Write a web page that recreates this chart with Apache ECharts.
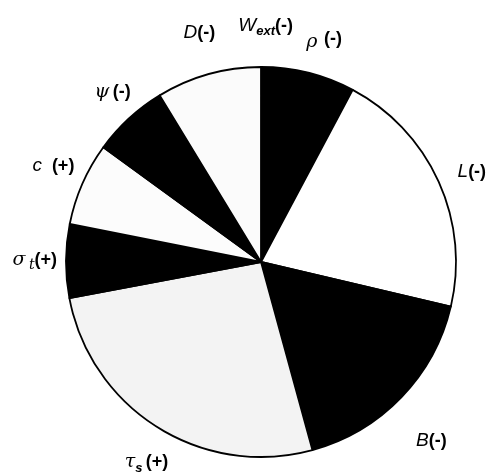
<!DOCTYPE html>
<html>
<head>
<meta charset="utf-8">
<script src="https://cdn.jsdelivr.net/npm/echarts@6/dist/echarts.min.js"></script>
<style>
  html, body { margin: 0; padding: 0; background: #fff; }
  #chart { width: 495px; height: 475px; }
</style>
</head>
<body>
<div id="chart"></div>
<script>
// slices clockwise from 12 o'clock, share in %
var names = ['Wext', 'rho', 'L', 'B', 'tau', 'sigma', 'c', 'psi', 'D'];
var labels = [
    '{v|W}{sub|ext}{n|(-)}',
    '{gl|ρ}  {n|(-)}',
    '{v|L}{n|(-)}',
    '{v|B}{n|(-)}',
    '{g|τ}{sub|s} {n|(+)}',
    '{g|σ} {t|t}{n|(+)}',
    '{v|c}   {n|(+)}',
    '{g|ψ} {n|(-)}',
    '{v|D}{n|(-)}'
];
var values = [0, 7.8, 20.9, 17.1, 26.3, 6.1, 6.9, 6.3, 8.7];
var fills = ['#ffffff', '#000000', '#ffffff', '#000000', '#f3f3f3', '#000000', '#fcfcfc', '#000000', '#fbfbfb'];
// hand placement of the labels, as in the original figure
var labelShift = [[34, -29], [-7, -22], [6, -5], [4, 35], [19, 25], [5, -1], [5, -13], [12, -18], [12, -30]];

var chart = echarts.init(document.getElementById('chart'));

var data = [];
for (var i = 0; i < names.length; i++) {
    data.push({
        name: names[i],
        value: values[i],
        itemStyle: { color: fills[i] },
        label: { formatter: labels[i] }
    });
}

var sans = 'Liberation Sans, Arial, sans-serif';

var option = {
    backgroundColor: '#fff',
    animation: false,
    series: [
        {
            type: 'pie',
            center: [261, 262],
            radius: 195,
            startAngle: 90,
            clockwise: true,
            avoidLabelOverlap: false,
            minAngle: 0,
            data: data,
            itemStyle: {
                borderColor: '#000',
                borderWidth: 1.8
            },
            label: {
                show: true,
                position: 'outside',
                distanceToLabelLine: 2,
                rich: {
                    v: { fontFamily: sans, fontSize: 19, fontStyle: 'italic', color: '#000', lineHeight: 24 },
                    g: { fontFamily: 'DejaVu Serif, serif', fontSize: 19, fontStyle: 'italic', color: '#000', lineHeight: 24 },
                    gl: { fontFamily: 'DejaVu Serif, serif', fontSize: 19, fontStyle: 'italic', color: '#000', lineHeight: 18, verticalAlign: 'bottom' },
                    sub: { fontFamily: sans, fontSize: 13, fontStyle: 'italic', fontWeight: 'bold', color: '#000', lineHeight: 16, verticalAlign: 'bottom' },
                    t: { fontFamily: 'DejaVu Serif, serif', fontSize: 14, fontStyle: 'italic', color: '#000', lineHeight: 16, verticalAlign: 'bottom' },
                    n: { fontFamily: sans, fontSize: 18, fontWeight: 'bold', color: '#000', lineHeight: 24 }
                }
            },
            labelLine: {
                show: false,
                length: 12,
                length2: 0
            },
            labelLayout: function (params) {
                var s = labelShift[params.dataIndex];
                return { dx: s[0], dy: s[1] };
            },
            emphasis: { disabled: true }
        }
    ]
};
chart.setOption(option);
</script>
</body>
</html>
